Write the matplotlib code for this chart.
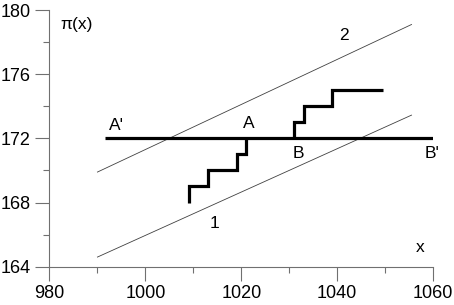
import matplotlib
matplotlib.use("Agg")
import matplotlib.pyplot as plt
from matplotlib.ticker import MultipleLocator

# thin bounding lines (1 lower, 2 upper)
line1_x = [990, 1055.5]
line1_y = [164.6, 173.45]
line2_x = [990, 1055.5]
line2_y = [169.9, 179.1]

# horizontal A'-B' level
level_x = [991.5, 1060.5]
level_y = [172, 172]

# staircases
stair1_x = [1009, 1009, 1013, 1013, 1019, 1019, 1021, 1021]
stair1_y = [168, 169, 169, 170, 170, 171, 171, 172]
stair2_x = [1031, 1031, 1033, 1033, 1039, 1039, 1049.5]
stair2_y = [172, 173, 173, 174, 174, 175, 175]

plt.rcParams["font.family"] = ["Liberation Sans", "DejaVu Sans"]

fig = plt.figure(figsize=(4.54, 3.05), dpi=100)
ax = fig.add_axes([0.109, 0.1256, 0.845, 0.8414])

thin = dict(color="#404040", lw=0.6)
thick = dict(color="black", lw=2.3, solid_joinstyle="miter", solid_capstyle="butt")
ax.plot(line1_x, line1_y, **thin)
ax.plot(line2_x, line2_y, **thin)
ax.plot(level_x, level_y, **thick)
ax.plot(stair1_x, stair1_y, **thick)
ax.plot(stair2_x, stair2_y, **thick)

fs = 12.5
ax.text(982.2, 179.1, "π(x)", fontsize=fs, ha="left", va="center")
ax.text(992.5, 172.8, "A'", fontsize=fs, ha="left", va="center")
ax.text(1021.5, 172.95, "A", fontsize=fs, ha="center", va="center")
ax.text(1031.8, 171.05, "B", fontsize=fs, ha="center", va="center")
ax.text(1058.3, 171.05, "B'", fontsize=fs, ha="left", va="center")
ax.text(1041.5, 178.4, "2", fontsize=fs, ha="center", va="center")
ax.text(1014.5, 166.7, "1", fontsize=fs, ha="center", va="center")
ax.text(1057.3, 165.2, "x", fontsize=fs, ha="center", va="center")

ax.set_xlim(980, 1060)
ax.set_ylim(164, 180)
ax.xaxis.set_major_locator(MultipleLocator(20))
ax.xaxis.set_minor_locator(MultipleLocator(10))
ax.yaxis.set_major_locator(MultipleLocator(4))
ax.yaxis.set_minor_locator(MultipleLocator(2))

spine_col = "#707070"
for side in ("top", "right"):
    ax.spines[side].set_visible(False)
for side in ("left", "bottom"):
    ax.spines[side].set_color(spine_col)
    ax.spines[side].set_linewidth(0.8)
ax.tick_params(which="major", direction="out", length=10, width=0.8,
               color=spine_col, labelsize=13, pad=3.5)
ax.tick_params(which="minor", direction="out", length=4.5, width=0.8,
               color=spine_col)

fig.savefig("out.png", dpi=100)
